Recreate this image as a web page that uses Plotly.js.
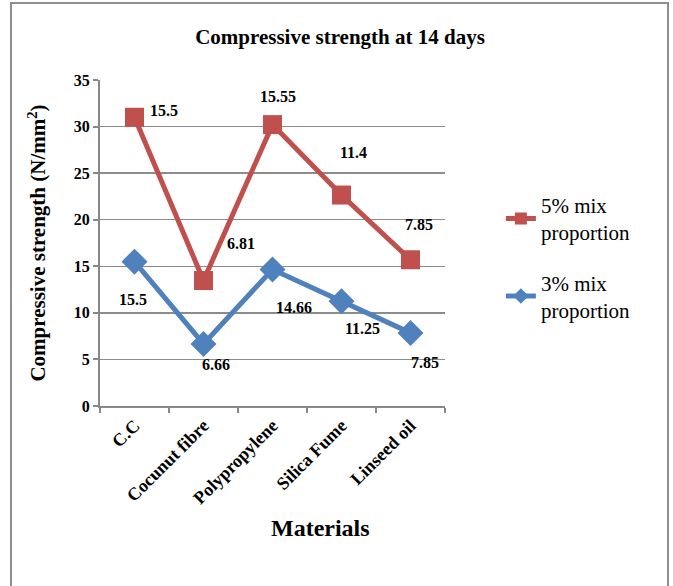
<!DOCTYPE html>
<html>
<head>
<meta charset="utf-8">
<script src="https://cdn.plot.ly/plotly-3.0.1.min.js"></script>
<style>
  html, body { margin: 0; padding: 0; background: #fff; }
  #frame { position: absolute; left: 10px; top: 2px; width: 659px; height: 600px;
           border: 2px solid #8e8e8e; box-sizing: border-box; }
  #chart { position: absolute; left: 0; top: 0; width: 673px; height: 586px; }
</style>
</head>
<body>
<div id="frame"></div>
<div id="chart"></div>
<script>
// Compressive strength at 14 days (N/mm²)
const materials = ["C.C", "Cocunut fibre", "Polypropylene", "Silica Fume", "Linseed oil"];
const mix3 = [15.5, 6.66, 14.66, 11.25, 7.85];
const mix5 = [15.5, 6.81, 15.55, 11.4, 7.85];

// The 5% series is stacked on top of the 3% series
const mix5Stacked = mix5.map((v, i) => +(v + mix3[i]).toFixed(2));

// Label offsets (pixels) for each data label
const off3 = [[-2, -38], [12, -21], [21, -38], [21, -27], [14, -30]];
const off5 = [[29, 7], [37, 37], [5, 28], [12, 43], [8, 35]];

const serif = "Liberation Serif, Times New Roman, serif";
const red = "#C0504D";
const blue = "#4F81BD";

const traces = [
  {
    x: materials, y: mix5Stacked, name: "5% mix<br>proportion",
    type: "scatter", mode: "lines+markers", legendgroup: "a",
    line: { color: red, width: 5 },
    marker: { symbol: "square", size: 19, color: red },
    hoverinfo: "skip"
  },
  {
    x: materials, y: mix3, name: "3% mix<br>proportion",
    type: "scatter", mode: "lines+markers", legendgroup: "b",
    line: { color: blue, width: 5 },
    marker: { symbol: "diamond", size: 20, color: blue },
    hoverinfo: "skip"
  }
];

const labelFont = { family: serif, size: 16, color: "#000", weight: "bold" };
const annotations = [];
mix3.forEach((v, i) => annotations.push({
  x: materials[i], y: v, text: String(v), showarrow: false,
  xshift: off3[i][0], yshift: off3[i][1], font: labelFont
}));
mix5.forEach((v, i) => annotations.push({
  x: materials[i], y: mix5Stacked[i], text: String(v), showarrow: false,
  xshift: off5[i][0], yshift: off5[i][1], font: labelFont
}));
annotations.push({
  xref: "paper", yref: "paper", x: 0.638, y: -0.42, text: "Materials",
  showarrow: false, font: { family: serif, size: 24, color: "#000", weight: "bold" }
});

const layout = {
  width: 673, height: 586,
  margin: { l: 100, r: 228, t: 80, b: 180 },
  paper_bgcolor: "rgba(0,0,0,0)", plot_bgcolor: "rgba(0,0,0,0)",
  showlegend: true,
  title: {
    text: "Compressive strength at 14 days",
    x: 340 / 673, xref: "container", xanchor: "center",
    y: 1 - 37 / 586, yref: "container", yanchor: "middle",
    font: { family: serif, size: 21, color: "#000", weight: "bold" }
  },
  xaxis: {
    type: "category", range: [-0.5, 4.5],
    showline: true, linecolor: "#888", linewidth: 2,
    ticks: "outside", tickson: "boundaries", ticklen: 5, tickcolor: "#888", tickwidth: 2,
    tickangle: -45, showgrid: false, zeroline: false,
    tickfont: { family: serif, size: 18, color: "#000", weight: "bold" }
  },
  yaxis: {
    range: [0, 35], dtick: 5, tick0: 0,
    showline: true, linecolor: "#888", linewidth: 2,
    ticks: "outside", ticklen: 5, tickcolor: "#888", tickwidth: 2,
    showgrid: true, gridcolor: "#8c8c8c", gridwidth: 1.5, zeroline: false,
    tickfont: { family: serif, size: 16, color: "#000", weight: "bold" },
    title: {
      text: "Compressive strength (N/mm<sup>2</sup>)", standoff: 22,
      font: { family: serif, size: 21, color: "#000", weight: "bold" }
    }
  },
  legend: {
    x: 1.162, xanchor: "left", y: 0.455, yanchor: "middle",
    traceorder: "grouped", tracegroupgap: 20, itemsizing: "constant",
    bgcolor: "rgba(0,0,0,0)",
    font: { family: serif, size: 21, color: "#000" }
  },
  annotations: annotations
};

Plotly.newPlot("chart", traces, layout, { staticPlot: true, displayModeBar: false });
</script>
</body>
</html>
